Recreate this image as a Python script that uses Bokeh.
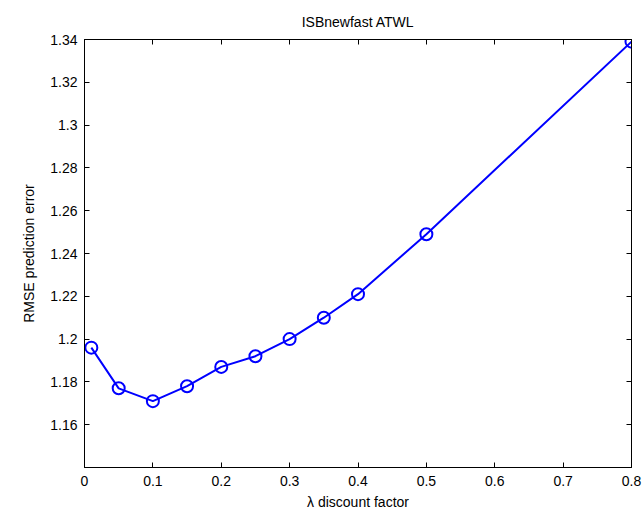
from bokeh.plotting import figure
from bokeh.models import Range1d, FixedTicker, LinearAxis
from bokeh.embed import file_html
from bokeh.resources import INLINE

# data
lambdas = [0.01, 0.05, 0.1, 0.15, 0.2, 0.25, 0.3, 0.35, 0.4, 0.5, 0.8]
rmse = [1.196, 1.177, 1.171, 1.178, 1.187, 1.192, 1.200, 1.210, 1.221, 1.249, 1.339]
x_ticks = [0, 0.1, 0.2, 0.3, 0.4, 0.5, 0.6, 0.7, 0.8]
x_tick_labels = ["0", "0.1", "0.2", "0.3", "0.4", "0.5", "0.6", "0.7", "0.8"]
y_ticks = [1.16, 1.18, 1.2, 1.22, 1.24, 1.26, 1.28, 1.3, 1.32, 1.34]
y_tick_labels = ["1.16", "1.18", "1.2", "1.22", "1.24", "1.26", "1.28", "1.3", "1.32", "1.34"]

FONT = "Liberation Sans"
BLUE = "#0000ff"

p = figure(width=644, height=513, output_backend="svg", toolbar_location=None,
           x_range=Range1d(0, 0.8), y_range=Range1d(1.14, 1.34),
           min_border_left=84, min_border_right=13, min_border_top=39, min_border_bottom=46)

p.title.text = "ISBnewfast ATWL"
p.title.align = "center"
p.title.text_font = FONT
p.title.text_font_size = "14px"
p.title.text_font_style = "normal"
p.title.text_color = "black"
p.title.standoff = 20

p.grid.visible = False
p.outline_line_color = "black"
p.outline_line_width = 1
p.background_fill_color = "white"
p.border_fill_color = "white"

xl = {v: s for v, s in zip(x_ticks, x_tick_labels)}
yl = {v: s for v, s in zip(y_ticks, y_tick_labels)}

for ax in p.xaxis:
    ax.ticker = FixedTicker(ticks=x_ticks)
    ax.major_label_overrides = xl
    ax.axis_label = "λ discount factor"
for ax in p.yaxis:
    ax.ticker = FixedTicker(ticks=y_ticks)
    ax.major_label_overrides = yl
    ax.axis_label = "RMSE prediction error"

top = LinearAxis(ticker=FixedTicker(ticks=x_ticks),
                 major_label_overrides={v: "" for v in x_ticks})
right = LinearAxis(ticker=FixedTicker(ticks=y_ticks),
                   major_label_overrides={v: "" for v in y_ticks})
p.add_layout(top, "above")
p.add_layout(right, "right")
for ax in [top, right]:
    ax.major_label_standoff = 0

for ax in p.axis:
    ax.major_tick_in = 5
    ax.major_tick_out = 0
    ax.minor_tick_in = 0
    ax.minor_tick_out = 0
    ax.axis_line_color = "black"
    ax.major_tick_line_color = "black"
    ax.major_label_text_font = FONT
    ax.major_label_text_font_size = "14px"
    ax.axis_label_text_font = FONT
    ax.axis_label_text_font_style = "normal"
    ax.axis_label_text_font_size = "14px"
    ax.axis_label_text_color = "black"
    ax.major_label_text_color = "black"

p.below[0].major_label_standoff = 8
p.left[0].major_label_standoff = 7
p.below[0].axis_label_standoff = 5
p.left[0].axis_label_standoff = 10

p.line(lambdas, rmse, line_color=BLUE, line_width=2)
p.scatter(lambdas, rmse, marker="circle", size=12, fill_color=None,
          line_color=BLUE, line_width=2)

open("out.html", "w").write(file_html(p, INLINE))
